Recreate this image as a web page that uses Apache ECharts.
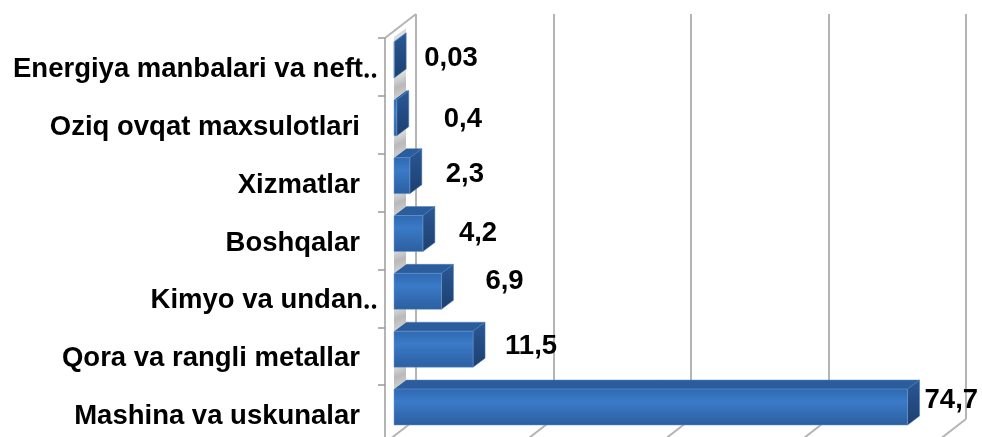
<!DOCTYPE html>
<html><head><meta charset="utf-8">
<style>html,body{margin:0;padding:0;background:#fff}#c{width:982px;height:437px}</style>
<script src="https://cdn.jsdelivr.net/npm/echarts@6/dist/echarts.min.js"></script>
</head><body><div id="c"></div>
<script>
const categories = ["Mashina va uskunalar","Qora va rangli metallar","Kimyo va undan‥","Boshqalar","Xizmatlar","Oziq ovqat maxsulotlari","Energiya manbalari va neft‥"];
const values = [74.7,11.5,6.9,4.2,2.3,0.4,0.03];
const axisTicks = [0,20,40,60,80];
const labelNudgeX = [17,32,44,36,36,47,30];
const labelNudgeY = [-7,-2.5,-9.5,-0.5,-1.5,1.5,-2];

const FF = '"Liberation Sans", Arial, sans-serif';
const FONT = 'bold 27.5px ' + FF;
const WALL = '#b4b4b4';
const FRONT_DX=-22, FRONT_DY=17, DEPTH_X=12, DEPTH_Y=-9, FACE_H=36;
const WALL_DX=-31, WALL_DY=24;
const grad=(a,b,c)=>({type:'linear',x:0,y:0,x2:0,y2:1,colorStops:[{offset:0,color:a},{offset:.35,color:b},{offset:1,color:c}]});
const labelStyle={color:'#000',fontFamily:FF,fontWeight:'bold',fontSize:27.5,lineHeight:30};

const chart = echarts.init(document.getElementById('c'),null,{renderer:'canvas'});
chart.setOption({
  animation:false,
  grid:[
    {left:385,top:38,width:560,height:405,containLabel:false,outerBoundsMode:'none'},
    {left:416,top:14,width:550,height:405,containLabel:false,outerBoundsMode:'none'}
  ],
  xAxis:[
    {gridIndex:0,type:'value',min:0,max:80,show:false},
    {gridIndex:1,type:'value',min:0,max:80,interval:20,
     axisLine:{show:false},axisTick:{show:false},axisLabel:{show:false},
     splitLine:{show:true,lineStyle:{color:WALL,width:2}}}
  ],
  yAxis:[
    {gridIndex:0,type:'category',data:categories,
     axisLine:{show:true,lineStyle:{color:WALL,width:2}},
     axisTick:{show:true,length:7,lineStyle:{color:'#9a9a9a',width:1.5}},
     axisLabel:{margin:7,interval:0,...labelStyle,hideOverlap:false,
       formatter:v=>v.endsWith('‥')?`{t|${v}}`:`{p|${v}}`,
       rich:{t:{...labelStyle,padding:[5,0,0,0]},p:{...labelStyle,padding:[5,18,0,0]}}}},
    {gridIndex:1,type:'category',data:categories,show:false}
  ],
  series:[
    {type:'custom',xAxisIndex:1,yAxisIndex:1,silent:true,clip:false,z:1,
     data:axisTicks.map(t=>[t]),
     encode:{x:0},
     renderItem(p,api){
       const a=api.coord([api.value(0),0]);
       const band=api.size([0,1])[1];
       const y0=a[1]+band/2;
       const ch=[{type:'line',shape:{x1:a[0],y1:y0,x2:a[0]+WALL_DX,y2:y0+WALL_DY},style:{stroke:WALL,lineWidth:2}}];
       if(p.dataIndex===0){
         const yTop=y0-band*categories.length;
         ch.push({type:'line',shape:{x1:a[0],y1:yTop,x2:a[0]+WALL_DX,y2:yTop+WALL_DY},style:{stroke:WALL,lineWidth:2}});
       }
       return {type:'group',children:ch};
     }},
    {type:'custom',xAxisIndex:1,yAxisIndex:1,silent:true,clip:false,z:3,
     data:values.map((v,i)=>[v,i]),
     encode:{x:0,y:1},
     renderItem(p,api){
       const i=p.dataIndex, v=api.value(0);
       const c=api.coord([v,api.value(1)]), o=api.coord([0,api.value(1)]);
       const band=api.size([0,1])[1];
       const xL=o[0]+FRONT_DX, xR=c[0]+FRONT_DX;
       const yC=c[1]+FRONT_DY, yT=yC-FACE_H/2, yB=yC+FACE_H/2;
       const gap=band-FACE_H;
       const ch=[];
       if(i>0){
         ch.push({type:'polygon',shape:{points:[[xL,yB],[xL+DEPTH_X,yB+DEPTH_Y],[xL+DEPTH_X,yB+DEPTH_Y+gap],[xL,yB+gap]]},
           style:{fill:{type:'linear',x:0,y:0,x2:1,y2:1,colorStops:[{offset:0,color:'#f4f4f4'},{offset:.55,color:'#b9b9b9'},{offset:1,color:'#d8d8d8'}]}}});
       } 
       if(i===values.length-1){
         ch.push({type:'polygon',shape:{points:[[xL,yT],[xL+DEPTH_X,yT+DEPTH_Y],[xL+DEPTH_X,yT+DEPTH_Y-5],[xL,yT-5]]},style:{fill:'#dcdcdc'}});
       }
       ch.push({type:'polygon',shape:{points:[[xL,yT],[xR,yT],[xR+DEPTH_X,yT+DEPTH_Y],[xL+DEPTH_X,yT+DEPTH_Y]]},style:{fill:'#2b5d9c',stroke:'#4a7cb8',lineWidth:.5}});
       ch.push({type:'polygon',shape:{points:[[xR,yT],[xR+DEPTH_X,yT+DEPTH_Y],[xR+DEPTH_X,yB+DEPTH_Y],[xR,yB]]},style:{fill:grad('#2a5a96','#264f88','#1d406f'),stroke:'#4a7cb8',lineWidth:.5}});
       ch.push({type:'rect',shape:{x:xL,y:yT,width:Math.max(xR-xL,0),height:FACE_H},style:{fill:grad('#2f69b0','#3b7ac8','#2c5f9f'),stroke:'#6c9ad2',lineWidth:.5}});
       ch.push({type:'text',style:{text:String(v).replace('.',','),x:xR+labelNudgeX[i],y:yC+labelNudgeY[i],font:FONT,fill:'#000',align:'left',verticalAlign:'middle'}});
       return {type:'group',children:ch};
     }}
  ]
});
</script></body></html>
